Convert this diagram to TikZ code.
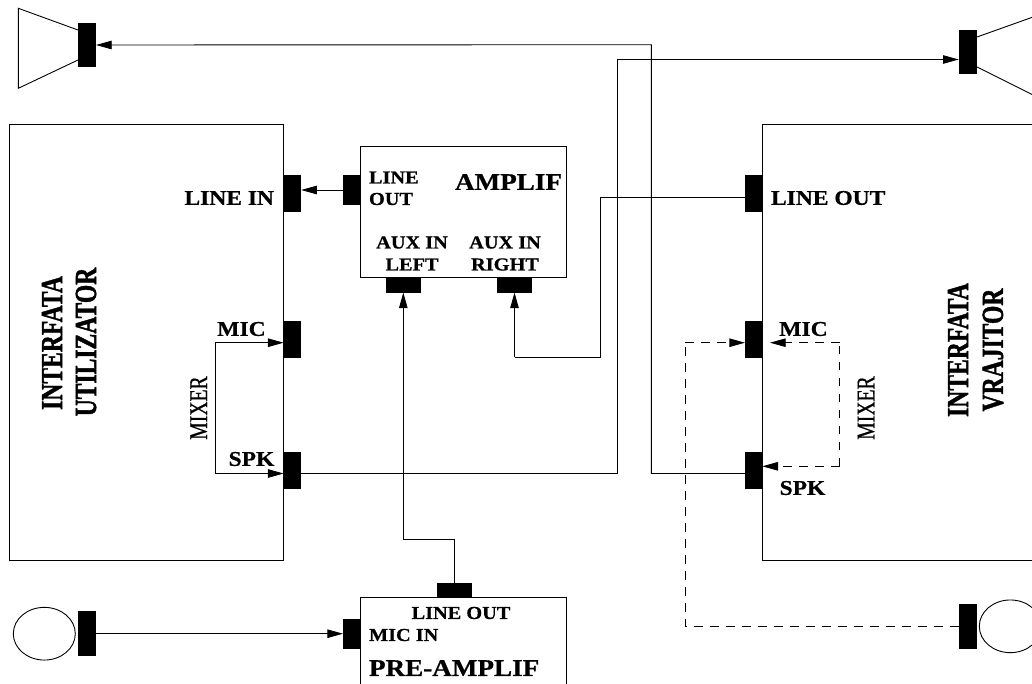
\documentclass[tikz,border=0pt]{standalone}
\usepackage{fontspec}
\usepackage{graphicx}
\setmainfont{Liberation Serif}
\newfontface\heavyface{Liberation Serif Bold}[FakeBold=0.6]
\newfontface\heavierface{Liberation Serif Bold}[FakeBold=1.6]
\newfontface\mixface{Liberation Serif}[FakeBold=0.8]
\usetikzlibrary{arrows.meta,shapes.geometric}
\newcommand{\lblbig}[1]{\fontsize{24}{24}\selectfont\heavyface\scalebox{1.13}[1]{#1}}
\newcommand{\lblmed}[1]{\fontsize{21}{21}\selectfont\heavyface\scalebox{1.12}[1]{#1}}
\newcommand{\lblsmall}[1]{\fontsize{18.3}{18.3}\selectfont\heavyface\scalebox{1.11}[1]{#1}}
\newcommand{\lblmix}[1]{\fontsize{19.7}{19.7}\selectfont\mixface\scalebox{1}[1.3]{#1}}
\newcommand{\lbliface}[1]{\fontsize{23.6}{23.6}\selectfont\heavierface\scalebox{1}[1.3]{#1}}
\tikzset{
  wire/.style={line width=0.9pt,black},
  arr/.style={wire,-{Triangle[length=15.7pt,width=8.5pt]}},
  dashwire/.style={wire,dash pattern=on 8.5pt off 7.5pt},
  dasharr/.style={dashwire,-{Triangle[length=15.7pt,width=8.5pt]}},
  box/.style={draw=black,line width=0.9pt,inner sep=0pt,outer sep=0pt,fill=none},
  blk/.style={fill=black,draw=none,inner sep=0pt,outer sep=0pt},
  txt/.style={inner sep=0pt,outer sep=0pt},
  micshape/.style={draw=black,line width=0.9pt,ellipse,minimum width=62pt,minimum height=52.7pt,inner sep=0pt,outer sep=0pt},
}
\begin{document}
\begin{tikzpicture}[x=1pt,y=-1pt]
\useasboundingbox (0,0) rectangle (1032,683);
\clip (0,0) rectangle (1032,683);
% large boxes
\node[box,minimum width=274pt,minimum height=436pt] (util) at (146.7,342.7) {};
\node[box,minimum width=340pt,minimum height=436pt] (vraj) at (932.3,342.7) {};
\node[box,minimum width=205.5pt,minimum height=131.5pt] (amp) at (463.25,211.75) {};
\node[box,minimum width=205.5pt,minimum height=120pt] (pre) at (463.25,657.3) {};
% speakers and microphones
\node[blk,minimum width=18pt,minimum height=44pt] (spkLb) at (87,45) {};
\node[blk,minimum width=18.3pt,minimum height=44pt] (spkRb) at (967.85,52) {};
\draw[wire] ([yshift=15pt]spkLb.west) -- (18.3,8.3) -- (18.3,88.3) -- ([yshift=-15pt]spkLb.west);
\draw[wire] ([yshift=15pt]spkRb.east) -- (1040,14.5);
\draw[wire] ([yshift=-15pt]spkRb.east) -- (1040,98.5);
\node[blk,minimum width=18pt,minimum height=44.7pt] (micLb) at (87,633.7) {};
\node[blk,minimum width=18.3pt,minimum height=44.7pt] (micRb) at (967.85,626.3) {};
\node[micshape] (micL) at (44.3,633.7) {};
\node[micshape] (micR) at (1010.3,626.3) {};
% connector blocks
\node[blk,minimum width=17.5pt,minimum height=37pt] (linein) at (292.4,193.5) {};
\node[blk,minimum width=17.5pt,minimum height=30pt] (ampout) at (351.75,190) {};
\node[blk,minimum width=35.3pt,minimum height=15pt] (auxL) at (403.3,285) {};
\node[blk,minimum width=35pt,minimum height=15pt] (auxR) at (514.5,285) {};
\node[blk,minimum width=17.5pt,minimum height=36.7pt] (micU) at (292.4,339.35) {};
\node[blk,minimum width=17.5pt,minimum height=37.3pt] (spkU) at (292.4,470.35) {};
\node[blk,minimum width=17.3pt,minimum height=37pt] (lineoutV) at (753.65,193.5) {};
\node[blk,minimum width=17.3pt,minimum height=36.7pt] (micV) at (753.65,339.35) {};
\node[blk,minimum width=17.3pt,minimum height=37.3pt] (spkV) at (753.65,470.35) {};
\node[blk,minimum width=35pt,minimum height=14.7pt] (preout) at (454.5,590) {};
\node[blk,minimum width=17.5pt,minimum height=30pt] (prein) at (351.75,633.7) {};
% way points
\coordinate (wpA) at (651.3,44.7);
\coordinate (wpB) at (651.3,473.5);
\coordinate (wpC) at (617,59.5);
\coordinate (wpD) at (617,473.5);
\coordinate (wpE) at (600,197.3);
\coordinate (wpF) at (600,357.3);
\coordinate (wpG) at (514.5,357.3);
\coordinate (wpH) at (454.5,539);
\coordinate (wpI) at (403.3,539);
\coordinate (wpJ) at (215,342.7);
\coordinate (wpK) at (215,473.5);
\coordinate (wpL) at (839.5,342.7);
\coordinate (wpM) at (839.5,466.3);
\coordinate (wpN) at (685.3,342.7);
\coordinate (wpO) at (685.3,626.3);
\coordinate (wpP) at (770,342.7);
% connectors
\draw[arr] ([yshift=-3.15pt]spkV.west) -- (wpB) -- (wpA) -- (spkLb.east);
\draw[arr] ([yshift=-3.15pt]spkU.east) -- (wpD) -- (wpC) -- ([yshift=-7.5pt]spkRb.west);
\draw[arr] (ampout.west) -- (ampout.west -| linein.east);
\draw[wire] ([yshift=-3.8pt]lineoutV.west) -- (wpE) -- (wpF) -- (wpG);
\draw[arr] (wpG) -- (auxR.south);
\draw[wire] (preout.north) -- (wpH) -- (wpI);
\draw[arr] (wpI) -- (auxL.south);
\draw[arr] (micLb.east) -- (prein.west);
\draw[wire] (wpK) -- (wpJ);
\draw[arr] (wpJ) -- (wpJ -| micU.west);
\draw[arr] (wpK) -- (wpK -| spkU.west);
\draw[dashwire] (micRb.west) -- (wpO) -- (wpN);
\draw[dasharr] (wpN) -- (wpN -| micV.west);
\draw[dashwire] (wpM) -- (wpL);
\draw[dasharr] (wpL) -- (wpP);
\draw[dasharr] (wpM) -- (wpM -| spkV.east);
% labels
\node[txt,anchor=east] (tLineIn) at (274,198) {\lblmed{LINE IN}};
\node[txt,anchor=west] (tLineOutV) at (771,198) {\lblmed{LINE OUT}};
\node[txt,anchor=west] (tAmp1) at (369,177.5) {\lblsmall{LINE}};
\node[txt,anchor=west] (tAmp2) at (369,199) {\lblsmall{OUT}};
\node[txt,anchor=west] (tAmp) at (455,182) {\lblbig{AMPLIF}};
\node[txt] (tAuxL1) at (412,242.5) {\lblsmall{AUX IN}};
\node[txt] (tAuxL2) at (412,264.5) {\lblsmall{LEFT}};
\node[txt] (tAuxR1) at (505,242.5) {\lblsmall{AUX IN}};
\node[txt] (tAuxR2) at (505,264.5) {\lblsmall{RIGHT}};
\node[txt] (tMicU) at (241.5,329) {\lblmed{MIC}};
\node[txt] (tSpkU) at (251.5,459) {\lblmed{SPK}};
\node[txt] (tMicV) at (803.5,329) {\lblmed{MIC}};
\node[txt] (tSpkV) at (802.5,488) {\lblmed{SPK}};
\node[txt,rotate=90] (tMixU) at (198.7,408) {\lblmix{MIXER}};
\node[txt,rotate=90] (tMixV) at (866,408) {\lblmix{MIXER}};
\node[txt,rotate=90] (tI1) at (52,343) {\lbliface{INTERFATA}};
\node[txt,rotate=90] (tI2) at (86,342) {\lbliface{UTILIZATOR}};
\node[txt,rotate=90] (tV1) at (958,350) {\lbliface{INTERFATA}};
\node[txt,rotate=90] (tV2) at (993,350) {\lbliface{VRAJITOR}};
\node[txt] (tPreOut) at (461,613) {\lblsmall{LINE OUT}};
\node[txt,anchor=west] (tPreIn) at (369,635) {\lblsmall{MIC IN}};
\node[txt,anchor=west] (tPre) at (369,668) {\lblbig{PRE-AMPLIF}};
\end{tikzpicture}
\end{document}
